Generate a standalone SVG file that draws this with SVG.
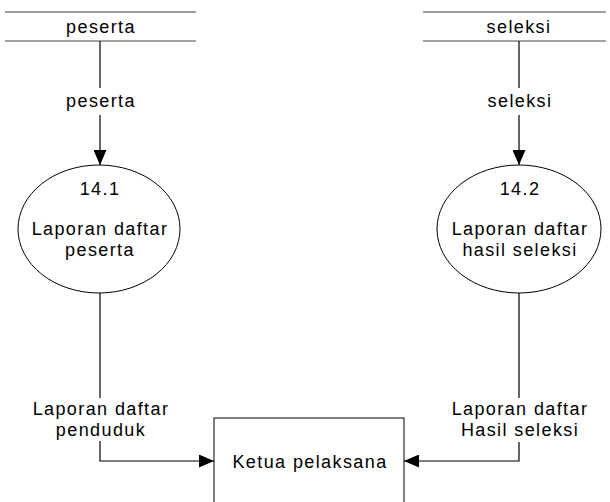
<svg xmlns="http://www.w3.org/2000/svg" width="610" height="502" viewBox="0 0 610 502">
<defs>
<style>
text{font-family:"Liberation Sans",Arial,sans-serif;font-size:18px;letter-spacing:1.4px;fill:#000;text-anchor:middle}
.store{stroke:#808080;stroke-width:1.5;fill:none}
.flow{stroke:#000;stroke-width:1.2;fill:none}
.proc{fill:#fff;stroke:#000;stroke-width:1}
.ent{fill:#fff;stroke:#000;stroke-width:1}
</style>
<marker id="arr" viewBox="0 0 15 13" refX="15" refY="6.5" markerWidth="15" markerHeight="13" markerUnits="userSpaceOnUse" orient="auto">
<path d="M0,0 L15,6.5 L0,13 Z" fill="#000"/>
</marker>
</defs>
<rect width="610" height="502" fill="#fff"/>
<g id="store-peserta">
<line class="store" x1="5" y1="12" x2="196" y2="12"/>
<line class="store" x1="5" y1="41" x2="196" y2="41"/>
<text x="101" y="33">peserta</text>
</g>
<g id="store-seleksi">
<line class="store" x1="423" y1="12" x2="606" y2="12"/>
<line class="store" x1="423" y1="41" x2="606" y2="41"/>
<text x="519" y="33">seleksi</text>
</g>
<g id="connectors">
<path class="flow" d="M100,41 V88 M100,115 V165" marker-end="url(#arr)"/>
<path class="flow" d="M519,41 V88 M519,115 V165" marker-end="url(#arr)"/>
<path class="flow" d="M100,293 V398 M100,441 V461 H214" marker-end="url(#arr)"/>
<path class="flow" d="M519,293 V398 M519,442 V461 H404" marker-end="url(#arr)"/>
<text x="101" y="107">peserta</text>
<text x="520" y="107">seleksi</text>
<text x="101" y="415">Laporan daftar</text>
<text x="101" y="436">penduduk</text>
<text x="520" y="415">Laporan daftar</text>
<text x="520" y="436">Hasil seleksi</text>
</g>
<g id="proc-14-1">
<ellipse class="proc" cx="99" cy="229" rx="81" ry="64"/>
<text x="100" y="195">14.1</text>
<text x="100" y="235">Laporan daftar</text>
<text x="100" y="256">peserta</text>
</g>
<g id="proc-14-2">
<ellipse class="proc" cx="519" cy="229" rx="82" ry="64"/>
<text x="520" y="195">14.2</text>
<text x="520" y="235">Laporan daftar</text>
<text x="520" y="256">hasil seleksi</text>
</g>
<g id="ketua-pelaksana">
<rect class="ent" x="214" y="418" width="190" height="100"/>
<text x="310" y="468">Ketua pelaksana</text>
</g>
</svg>
